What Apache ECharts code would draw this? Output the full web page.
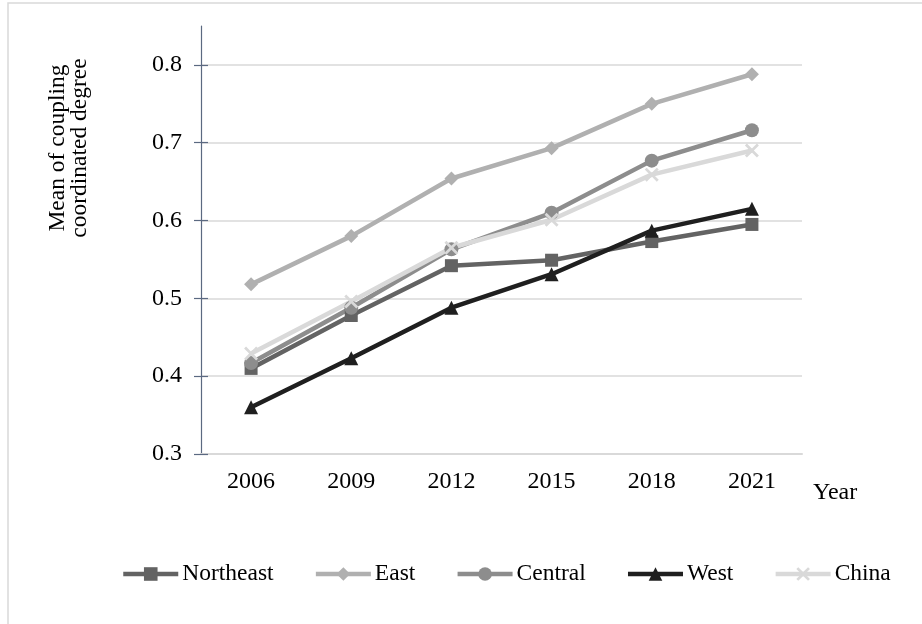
<!DOCTYPE html>
<html>
<head>
<meta charset="utf-8">
<script src="https://cdn.jsdelivr.net/npm/echarts@6/dist/echarts.min.js"></script>
<style>
  html, body { margin: 0; padding: 0; background: #ffffff; }
  #chart { width: 922px; height: 624px; }
</style>
</head>
<body>
<div id="chart"></div>
<script>
// Survey years on the category axis
var years = ['2006', '2009', '2012', '2015', '2018', '2021'];

// Mean coupling coordination degree by region
var northeast = [0.410, 0.478, 0.542, 0.549, 0.573, 0.595];
var east      = [0.518, 0.580, 0.654, 0.693, 0.750, 0.788];
var central   = [0.417, 0.488, 0.563, 0.610, 0.677, 0.716];
var west      = [0.360, 0.423, 0.488, 0.531, 0.587, 0.615];
var china     = [0.429, 0.496, 0.565, 0.601, 0.659, 0.690];

// Value-axis tick labels
var yTicks = [0.3, 0.4, 0.5, 0.6, 0.7, 0.8];

var FONT = '"Liberation Serif", "Times New Roman", serif';
var AXIS_COLOR = '#5b6981';
var GRID_COLOR = '#d9d9d9';
var LINE_W = 4.5;

// Filled "x" cross used as the China marker
var crossPath = 'path://M0,1.4L1.4,0L5,3.6L8.6,0L10,1.4L6.4,5L10,8.6L8.6,10L5,6.4L1.4,10L0,8.6L3.6,5Z';

function lineSeries(name, data, color, symbol, size) {
  return {
    name: name,
    type: 'line',
    data: data,
    symbol: symbol,
    symbolSize: size,
    showSymbol: true,
    lineStyle: { color: color, width: LINE_W },
    itemStyle: { color: color },
    emphasis: { disabled: true },
    animation: false
  };
}

var chart = echarts.init(document.getElementById('chart'), null, { renderer: 'canvas' });

chart.setOption({
  backgroundColor: '#ffffff',
  animation: false,
  textStyle: { fontFamily: FONT },
  graphic: [
    {
      type: 'rect',
      shape: { x: 8, y: 3, width: 1200, height: 1200 },
      style: { fill: 'none', stroke: GRID_COLOR, lineWidth: 1.5 },
      silent: true,
      z: -10
    },
    {
      type: 'text',
      x: 69,
      y: 148,
      rotation: Math.PI / 2,
      style: {
        text: 'Mean of coupling\ncoordinated degree',
        font: '23.5px ' + FONT,
        fill: '#000000',
        align: 'center',
        verticalAlign: 'middle',
        lineHeight: 22
      }
    }
  ],
  grid: { left: 201, right: 120, top: 26, bottom: 170, containLabel: false },
  legend: {
    bottom: 38,
    left: 121,
    padding: 0,
    itemWidth: 55,
    itemHeight: 17,
    itemGap: 40,
    lineStyle: { width: LINE_W },
    textStyle: { fontFamily: FONT, fontSize: 23.5, color: '#000000', padding: [0, 0, 0, -1] },
    data: ['Northeast', 'East', 'Central', 'West', 'China']
  },
  xAxis: {
    type: 'category',
    data: years,
    boundaryGap: true,
    name: 'Year',
    nameLocation: 'end',
    nameGap: 11,
    nameTextStyle: { fontFamily: FONT, fontSize: 24, color: '#000000', verticalAlign: 'top', padding: [27, 0, 0, 0] },
    axisLine: { show: true, lineStyle: { color: GRID_COLOR, width: 2 } },
    axisTick: { show: false },
    axisLabel: { fontFamily: FONT, fontSize: 24, color: '#000000', margin: 16 },
    splitLine: { show: false }
  },
  yAxis: [
    {
      type: 'value',
      min: 0.3,
      max: 0.85,
      interval: 0.1,
      axisLine: { show: true, lineStyle: { color: AXIS_COLOR, width: 1.2 } },
      axisTick: { show: true, inside: false, length: 7, customValues: yTicks, lineStyle: { color: AXIS_COLOR, width: 1.2 } },
      axisLabel: {
        fontFamily: FONT, fontSize: 24, color: '#000000', margin: 19,
        customValues: yTicks,
        formatter: function (v) { return v.toFixed(1); }
      },
      splitLine: { show: true, lineStyle: { color: GRID_COLOR, width: 1.5 } }
    },
    {
      type: 'value',
      min: 0.3,
      max: 0.85,
      interval: 0.1,
      position: 'left',
      axisLine: { show: false },
      axisTick: { show: true, inside: true, length: 7, customValues: yTicks, lineStyle: { color: AXIS_COLOR, width: 1.2 } },
      axisLabel: { show: false },
      splitLine: { show: false }
    }
  ],
  series: [
    lineSeries('Northeast', northeast, '#636363', 'rect', 13),
    lineSeries('East', east, '#b0b0b0', 'diamond', 14),
    lineSeries('Central', central, '#8d8d8d', 'circle', 14),
    lineSeries('West', west, '#1f1f1f', 'triangle', 14),
    lineSeries('China', china, '#d9d9d9', crossPath, 14)
  ]
});
</script>
</body>
</html>
